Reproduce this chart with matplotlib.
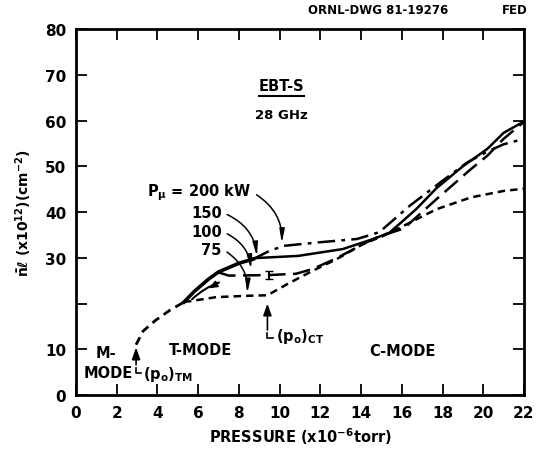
import numpy as np
import matplotlib.pyplot as plt

plt.rcParams['font.family'] = 'DejaVu Sans'
plt.rcParams['font.weight'] = 'bold'
plt.rcParams['axes.labelweight'] = 'bold'
plt.rcParams['mathtext.default'] = 'bf'

# line-density curves, nbar*l (x10^12 cm^-2) versus pressure (x10^-6 torr)
common_p = [2.95, 3.3, 3.9, 4.6, 5.3]
common_n = [11.0, 14.0, 16.3, 18.5, 20.3]

branch_p = [5.3, 5.8, 6.5, 7.0, 8.0, 8.7]
branch_n = [20.3, 22.6, 25.3, 26.9, 28.8, 29.7]

p200 = [8.7, 9.5, 10.2, 12.0, 13.8, 14.9, 16.4, 17.9, 19.2, 20.2, 21.0, 22.0]
n200 = [29.7, 31.5, 32.6, 33.4, 34.1, 35.6, 41.4, 46.5, 50.8, 53.2, 54.8, 56.0]

p150 = [8.7, 10.9, 13.1, 14.6, 15.4, 16.7, 17.7, 19.0, 20.2, 21.0, 22.0]
n150 = [29.9, 30.4, 31.9, 34.1, 35.5, 40.6, 45.2, 50.0, 53.8, 57.3, 59.8]

p100 = [7.0, 7.5, 9.4, 10.8, 11.6, 12.8, 14.1, 14.8, 16.1, 17.7, 19.4, 20.2, 21.0, 22.0]
n100 = [26.8, 26.1, 26.2, 26.5, 27.5, 29.9, 33.0, 34.5, 36.4, 42.8, 49.4, 52.3, 56.0, 59.7]

p75 = [5.3, 6.9, 8.5, 9.4, 10.4, 11.6, 12.8, 14.1, 15.1, 16.1, 17.7, 19.4, 21.0, 22.0]
n75 = [20.3, 21.4, 21.7, 21.8, 24.3, 27.1, 29.7, 33.0, 34.8, 37.0, 40.6, 43.2, 44.6, 45.1]

# power labels: text anchor (right end) and the point each one marks
power_labels = ['P$_\\mu$ = 200 kW', '150', '100', '75']
label_p = [8.6, 7.15, 7.15, 7.15]
label_n = [44.4, 40.0, 35.8, 31.9]
mark_p = [10.1, 8.9, 8.6, 8.4]
mark_n = [32.6, 29.7, 26.9, 21.6]

xticks = np.arange(0, 23, 2)
yticks = np.arange(0, 81, 10)
ytick_labels = ['0', '10', '', '30', '40', '50', '60', '70', '80']

fig = plt.figure(figsize=(5.36, 4.52), dpi=100)
ax = fig.add_axes([76 / 536, 1 - 396 / 452, 448 / 536, 366 / 452])

ax.plot(common_p, common_n, color='k', lw=2, dashes=(3, 2))
ax.plot(branch_p, branch_n, color='k', lw=2.6)
ax.plot(p200, n200, color='k', lw=1.8, dashes=(7, 2.5, 1.5, 2.5))
ax.plot(p150, n150, color='k', lw=1.8)
ax.plot(p100, n100, color='k', lw=1.8, dashes=(7, 3))
ax.plot(p75, n75, color='k', lw=1.8, dashes=(3, 2))

# scatter bar on the 100 kW curve
ax.errorbar([9.5], [26.2], yerr=[0.8], fmt='none', ecolor='k', capsize=3, lw=1.5)

# hysteresis arrow just under the upper branch
ax.annotate('', xy=(5.6, 20.5), xytext=(7.15, 24.8),
            arrowprops=dict(arrowstyle='-', lw=1.5, color='k',
                            connectionstyle='arc3,rad=0.12'))
ax.annotate('', xy=(6.4, 23.0), xytext=(7.0, 24.5),
            arrowprops=dict(arrowstyle='-|>,head_length=0.5,head_width=0.2',
                            lw=1.2, color='k'))

for lab, lx, ly, mx, my in zip(power_labels, label_p, label_n, mark_p, mark_n):
    ax.text(lx, ly, lab, ha='right', va='center', fontsize=10.5)
    ax.annotate('', xy=(mx, my), xytext=(lx + 0.15, ly - 0.3),
                arrowprops=dict(arrowstyle='-|>,head_length=0.8,head_width=0.15',
                                lw=1.1, color='k',
                                connectionstyle='arc3,rad=-0.3'))

# transition pressure markers
ax.annotate('', xy=(2.95, 11.0), xytext=(2.95, 6.0),
            arrowprops=dict(arrowstyle='-|>,head_length=0.7,head_width=0.25',
                            lw=1.2, color='k'))
ax.plot([2.95, 2.95, 3.2], [6.0, 4.9, 4.9], color='k', lw=1.2)
ax.text(3.3, 4.6, '(p$_o$)$_{TM}$', fontsize=10.5, va='center')

ax.annotate('', xy=(9.4, 20.6), xytext=(9.4, 13.6),
            arrowprops=dict(arrowstyle='-|>,head_length=0.7,head_width=0.25',
                            lw=1.2, color='k'))
ax.plot([9.4, 9.4, 9.65], [13.6, 12.5, 12.5], color='k', lw=1.2)
ax.text(9.8, 13.0, '(p$_o$)$_{CT}$', fontsize=10.5, va='center')

# regime labels
ax.text(0.95, 9.2, 'M-', fontsize=10.5, va='center')
ax.text(0.35, 4.9, 'MODE', fontsize=10.5, va='center')
ax.text(4.55, 10.0, 'T-MODE', fontsize=10.5, va='center')
ax.text(14.4, 9.8, 'C-MODE', fontsize=10.5, va='center')

ax.text(10.1, 67.6, 'EBT-S', fontsize=10.5, ha='center', va='center')
ax.plot([9.0, 11.2], [65.3, 65.3], color='k', lw=1.5)
ax.text(10.1, 61.3, '28 GHz', fontsize=9.5, ha='center', va='center')

ax.set_xlim(0, 22)
ax.set_ylim(0, 80)
ax.set_xticks(xticks)
ax.set_yticks(yticks)
ax.set_yticklabels(ytick_labels)
ax.tick_params(direction='in', top=True, right=True, length=8, width=1.3,
               labelsize=11, pad=7)
for side in ax.spines.values():
    side.set_linewidth(2)

ax.set_xlabel('PRESSURE (x10$^{-6}$torr)', fontsize=10.5, labelpad=4)
ax.set_ylabel('$\\bar{n}\\ell$ (x10$^{12}$)(cm$^{-2}$)', fontsize=10, labelpad=8)

fig.text(448 / 536, 1 - 10 / 452, 'ORNL-DWG 81-19276', fontsize=8.5,
         ha='right', va='center')
fig.text(528 / 536, 1 - 10 / 452, 'FED', fontsize=8.5, ha='right', va='center')

fig.savefig('out.png', dpi=100)
